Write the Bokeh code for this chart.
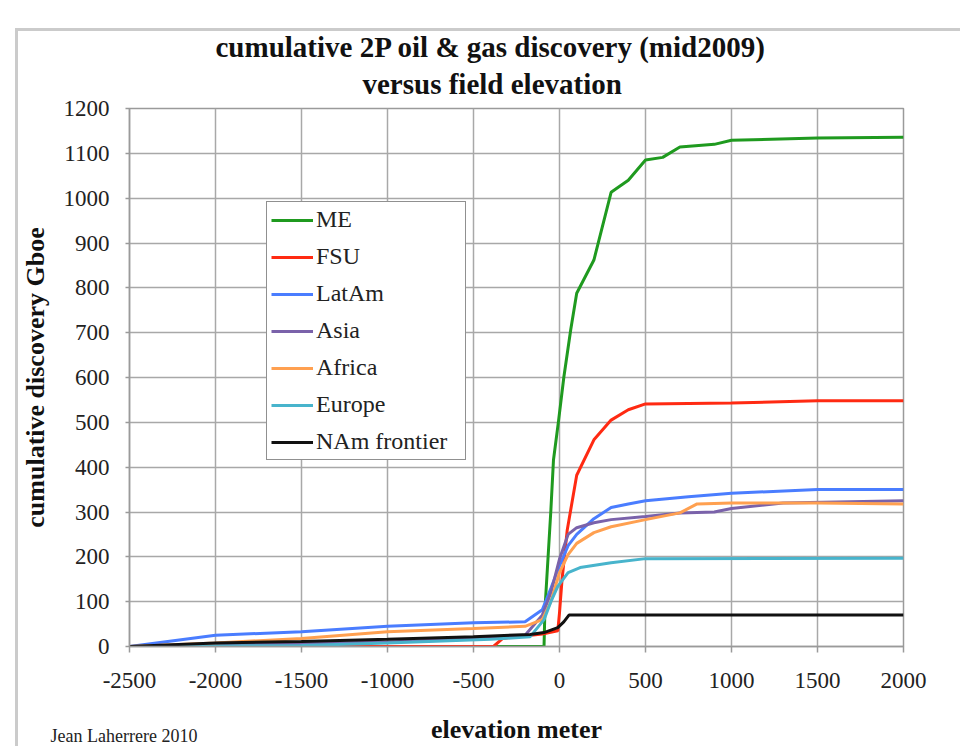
from bokeh.plotting import figure
from bokeh.models import Title, Legend, LegendItem, FixedTicker
from bokeh.embed import file_html
from bokeh.resources import INLINE

# ---- data (elevation m, cumulative discovery Gboe) ----
me_x = [-2500, -90, -85, -50, -35, -5, 25, 65, 100, 200, 300, 400, 500, 600, 700, 900, 1000, 1500, 2000]
me_y = [0, 0, 80, 305, 416, 505, 600, 706, 788, 862, 1013, 1040, 1085, 1091, 1114, 1120, 1129, 1134, 1136]

fsu_x = [-2500, -384, -330, -100, -10, 0, 15, 45, 100, 200, 300, 400, 500, 1000, 1500, 2000]
fsu_y = [0, 0, 18, 28, 35, 75, 150, 260, 382, 461, 505, 528, 541, 543, 548, 548]

latam_x = [-2500, -2000, -1500, -1000, -500, -200, -100, -50, 0, 50, 100, 200, 300, 400, 500, 750, 1000, 1500, 2000]
latam_y = [0, 25, 33, 45, 53, 55, 82, 130, 180, 225, 250, 285, 310, 318, 325, 334, 342, 350, 350]

asia_x = [-2500, -1000, -500, -200, -100, -50, 0, 50, 100, 200, 300, 500, 700, 900, 1000, 1300, 2000]
asia_y = [0, 10, 18, 25, 70, 120, 195, 250, 265, 276, 283, 290, 298, 300, 308, 320, 325]

africa_x = [-2500, -2000, -1500, -1000, -500, -200, -100, -50, 0, 50, 100, 200, 300, 500, 700, 800, 1000, 1500, 2000]
africa_y = [0, 8, 18, 33, 40, 45, 60, 100, 165, 205, 230, 254, 267, 283, 298, 318, 320, 320, 318]

europe_x = [-2500, -1500, -1000, -400, -170, -90, -50, -10, 50, 120, 300, 500, 2000]
europe_y = [0, 2, 8, 16, 22, 60, 100, 134, 165, 176, 187, 196, 197]

nam_x = [-2500, -2000, -1500, -1000, -500, -170, -90, -10, 25, 55, 2000]
nam_y = [0, 8, 11, 16, 22, 27, 31, 42, 55, 70, 70]

series_names = ["ME", "FSU", "LatAm", "Asia", "Africa", "Europe", "NAm frontier"]
series_colors = ["#1f9a1f", "#ff2a12", "#4a7dff", "#7a62aa", "#ffa050", "#48b4cc", "#111111"]

x_ticks = [-2500, -2000, -1500, -1000, -500, 0, 500, 1000, 1500, 2000]
x_tick_labels = ["-2500", "-2000", "-1500", "-1000", "-500", "0", "500", "1000", "1500", "2000"]
y_ticks = [0, 100, 200, 300, 400, 500, 600, 700, 800, 900, 1000, 1100, 1200]

SERIF = "Liberation Serif"

p = figure(width=960, height=746, output_backend="svg", toolbar_location=None,
           x_range=(-2500, 2000), y_range=(0, 1200),
           min_border_left=129, min_border_right=57, min_border_top=108, min_border_bottom=99)

p.background_fill_color = "white"
p.border_fill_alpha = 0
# page frame of the original document (light grey edge on the left and top)
p.styles = {
    "background": "linear-gradient(#cbcbcb,#cbcbcb) 15px 28px / 3px 900px no-repeat, "
                  "linear-gradient(#cbcbcb,#cbcbcb) 15px 28px / 1200px 3px no-repeat, white"
}
p.outline_line_color = "#9a9a9a"
p.outline_line_width = 1.5

# titles (line 2 added first so it sits closest to the frame)
t2 = Title(text="versus field elevation", align="left", text_font=SERIF, offset=233,
           text_font_size="29px", text_font_style="bold", text_color="#111111", standoff=18)
t1 = Title(text="cumulative 2P oil & gas discovery (mid2009)", align="left", text_font=SERIF, offset=86,
           text_font_size="29px", text_font_style="bold", text_color="#111111", standoff=-12)
p.add_layout(t2, "above")
p.add_layout(t1, "above")

# axes
xa = p.xaxis[0]
ya = p.yaxis[0]
xa.ticker = FixedTicker(ticks=x_ticks)
ya.ticker = FixedTicker(ticks=y_ticks)
xa.major_label_overrides = {t: s for t, s in zip(x_ticks, x_tick_labels)}
for ax in (xa, ya):
    ax.minor_tick_line_color = None
    ax.axis_line_color = "#9a9a9a"
    ax.axis_line_width = 1.5
    ax.major_tick_line_color = "#9a9a9a"
    ax.major_tick_line_width = 1.5
    ax.major_label_text_font = SERIF
    ax.major_label_text_font_size = "23px"
    ax.major_label_text_color = "#222222"
    ax.axis_label_text_font = SERIF
    ax.axis_label_text_font_size = "26px"
    ax.axis_label_text_font_style = "bold"
    ax.axis_label_text_color = "#111111"
xa.major_tick_in = 0
xa.major_tick_out = 6
ya.major_tick_in = 0
ya.major_tick_out = 4
xa.major_label_standoff = 20
ya.major_label_standoff = 16
xa.axis_label = "elevation meter"
ya.axis_label = "cumulative discovery Gboe"
xa.axis_label_standoff = 24
ya.axis_label_standoff = 11

p.xgrid.grid_line_color = "#a8a8a8"
p.ygrid.grid_line_color = "#a8a8a8"
p.xgrid.grid_line_width = 1.5
p.ygrid.grid_line_width = 1.5

xs = [me_x, fsu_x, latam_x, asia_x, africa_x, europe_x, nam_x]
ys = [me_y, fsu_y, latam_y, asia_y, africa_y, europe_y, nam_y]
items = []
for name, color, x, y in zip(series_names, series_colors, xs, ys):
    r = p.line(x, y, line_color=color, line_width=3)
    items.append(LegendItem(label=name, renderers=[r]))

legend = Legend(items=items, location=(137, 186), margin=0, padding=4, spacing=10,
                glyph_width=42, glyph_height=20, label_height=20, label_width=145, label_standoff=3,
                label_text_font=SERIF, label_text_font_size="24px", label_text_color="#222222",
                border_line_color="#222222", border_line_width=1.5,
                background_fill_color="white", background_fill_alpha=1)
p.add_layout(legend, "center")

credit = Title(text="Jean Laherrere 2010", align="left", vertical_align="top", offset=-79, standoff=-42,
               text_font=SERIF, text_font_size="18px", text_font_style="normal", text_color="#222222")
p.add_layout(credit, "below")

open("out.html", "w").write(file_html(p, INLINE))
